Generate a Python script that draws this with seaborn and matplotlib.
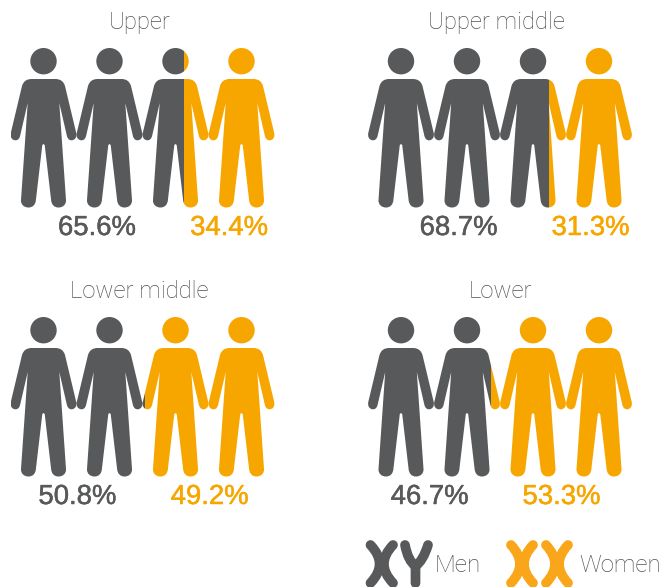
import matplotlib
matplotlib.use('Agg')
import matplotlib.pyplot as plt
from matplotlib.patches import PathPatch
from matplotlib.patheffects import withStroke
from matplotlib.path import Path
from matplotlib.transforms import Affine2D
import seaborn as sns

groups = ['Upper', 'Upper middle', 'Lower middle', 'Lower']
men = [65.6, 68.7, 50.8, 46.7]
women = [34.4, 31.3, 49.2, 53.3]
legend_labels = ['Men', 'Women']

DARK = '#58595b'
ORANGE = '#f7a600'
LEGEND_ORANGE = '#faa61a'
GREY = '#505154'

W, H = 661, 587
PANEL_W, PANEL_H = 264, 159.5
panel_left = [10.5, 368, 10.5, 368]
panel_top = [48, 48, 317, 317]
title_x = [139.5, 496, 139.5, 500.5]
title_y = [22, 22, 291, 291]

sns.set_theme(style='white')
plt.rcParams['font.family'] = ['Liberation Sans', 'DejaVu Sans']
LIGHT = dict(family='Roboto', weight='light', color=GREY)


def person(cx):
    # right half of the outline, y measured from the top of the panel
    half = [
        (Path.MOVETO, (0, 31)), (Path.LINETO, (12, 31)),
        (Path.CURVE3, (19.5, 31)), (Path.CURVE3, (21.5, 38)),
        (Path.LINETO, (32.6, 84.5)),
        (Path.CURVE4, (33.8, 89)), (Path.CURVE4, (31.5, 92.3)), (Path.CURVE4, (28, 92.3)),
        (Path.CURVE4, (25.5, 92.3)), (Path.CURVE4, (24, 90.5)), (Path.CURVE4, (23.3, 87.5)),
        (Path.LINETO, (15.8, 55)), (Path.LINETO, (22.5, 152)),
        (Path.CURVE4, (22.8, 156.5)), (Path.CURVE4, (19.5, 159.5)), (Path.CURVE4, (15, 159.5)),
        (Path.CURVE4, (10.5, 159.5)), (Path.CURVE4, (8, 156.5)), (Path.CURVE4, (7.6, 152)),
        (Path.LINETO, (1.2, 97)), (Path.CURVE3, (0, 96)), (Path.CURVE3, (0, 96)),
    ]
    codes = [c for c, _ in half]
    verts = [(cx + x, y) for _, (x, y) in half]
    # mirror the right half, walking back up the left side
    back = [(cx - x, y) for _, (x, y) in half[::-1]][1:]
    back_codes = [c for c, _ in half[1:]][::-1]
    body = Path(verts + back, codes + back_codes)
    head = Path.circle((cx, 13.2), 13.2)
    return [body, head]


def people_path():
    parts = []
    for i in range(4):
        parts += person(33 + 66 * i)
    return Path.make_compound_path(*parts)


def draw_panel(fig, i):
    ax = fig.add_axes([panel_left[i] / W, 1 - (panel_top[i] + PANEL_H) / H, PANEL_W / W, PANEL_H / H])
    shapes = Affine2D().scale(1 / PANEL_W, -1 / PANEL_H).translate(0, 1) + ax.transAxes
    sns.barplot(x=[men[i]], y=[groups[i]], color=DARK, saturation=1, width=1, orient='h', ax=ax)
    sns.barplot(x=[women[i]], y=[groups[i]], color=ORANGE, saturation=1, width=1, orient='h', ax=ax)
    ax.set_xlim(0, 100)
    ax.set_ylim(-0.5, 0.5)
    ax.set_axis_off()

    bars = list(ax.patches)
    bars[1].set_x(men[i])
    label_y = -(228 - 207.5) / PANEL_H
    for bar, color, val in zip(bars, [DARK, ORANGE], [men[i], women[i]]):
        # the bars only cut the silhouettes at the share
        bar.set_visible(False)
        shape = PathPatch(people_path(), facecolor=color, edgecolor='none', transform=shapes)
        ax.add_patch(shape)
        shape.set_clip_path(bar)
        ax.text(bar.get_x() + bar.get_width() / 2, label_y, '%.1f%%' % val, color=color, fontsize=19.8,
                ha='center', va='center', transform=ax.get_xaxis_transform(), clip_on=False,
                path_effects=[withStroke(linewidth=0.35, foreground=color)])


def stroke(ax, points, color):
    codes = [Path.MOVETO] + [Path.CURVE3] * (len(points) - 1)
    ax.add_patch(PathPatch(Path(points, codes), facecolor='none', edgecolor=color, lw=7, capstyle='round'))


def draw_x(ax, left, right, color):
    mid = (left + right) / 2
    stroke(ax, [(left, 545), (mid + 7, 564), (left, 583)], color)
    stroke(ax, [(right, 545), (mid - 7, 564), (right, 583)], color)


def main():
    fig = plt.figure(figsize=(W / 100, H / 100), dpi=100)
    for i in range(len(groups)):
        draw_panel(fig, i)

    over = fig.add_axes([0, 0, 1, 1])
    over.set_xlim(0, W)
    over.set_ylim(H, 0)
    over.set_axis_off()
    over.patch.set_alpha(0)
    for i, name in enumerate(groups):
        over.text(title_x[i], title_y[i], name, ha='center', va='center', fontsize=17.2, **LIGHT)

    draw_x(over, 370.5, 393, DARK)
    stroke(over, [(405, 545), (408, 561), (415.5, 566)], DARK)
    stroke(over, [(428, 545), (423, 561), (415.5, 566)], DARK)
    stroke(over, [(415.5, 566), (415.5, 575), (415.5, 583)], DARK)
    draw_x(over, 511, 533, LEGEND_ORANGE)
    draw_x(over, 546, 568, LEGEND_ORANGE)
    over.text(435, 566, legend_labels[0], ha='left', va='center', fontsize=17.5, **LIGHT)
    over.text(579, 566, legend_labels[1], ha='left', va='center', fontsize=17.3, **LIGHT)

    fig.savefig('out.png', dpi=100)


if __name__ == '__main__':
    main()
